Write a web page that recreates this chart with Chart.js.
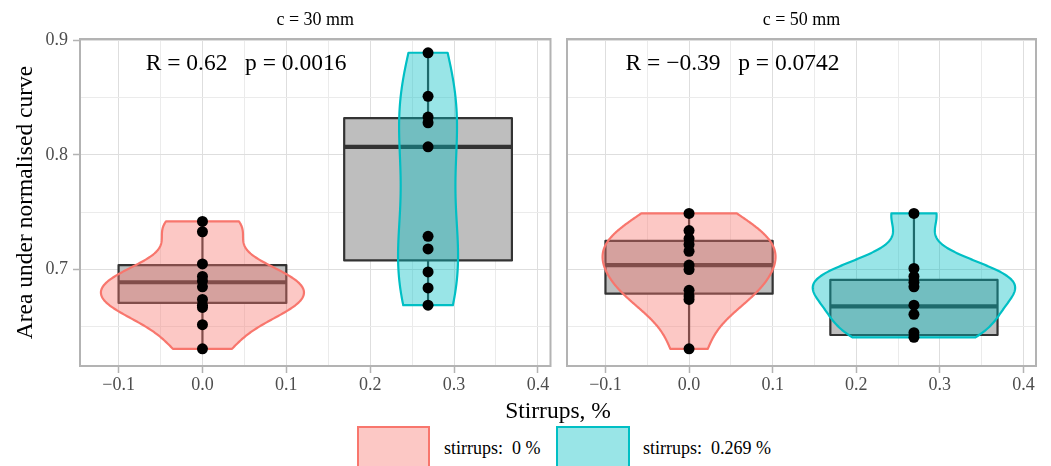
<!DOCTYPE html>
<html>
<head>
<meta charset="utf-8">
<script src="https://cdn.jsdelivr.net/npm/chart.js@4.4.1/dist/chart.umd.min.js"></script>
<style>
    body { margin: 0; background: #fff; font-family: "Liberation Serif", "DejaVu Serif", serif; }
    #page { position: relative; width: 1051px; height: 466px; overflow: hidden; background: #fff; }
    canvas { position: absolute; top: 0; }
    #c30 { left: 0; }
    #c50 { left: 556px; }
    .xtitle { position: absolute; left: 80px; width: 956px; top: 395px; height: 30px; line-height: 30px;
              text-align: center; font-size: 23.5px; color: #000; }
    .key { position: absolute; top: 426px; height: 46px; box-sizing: border-box; border: 2px solid; }
    .keylabel { position: absolute; top: 436px; line-height: 24px; font-size: 18px; color: #000; white-space: pre; }
</style>
</head>
<body>
<div id="page">
    <canvas id="c30" width="556" height="400"></canvas>
    <canvas id="c50" width="495" height="400"></canvas>
    <div class="xtitle" id="xtitle"></div>
    <div class="key" id="key0" style="left:357px;width:73px"></div>
    <div class="keylabel" id="lab0" style="left:444px"></div>
    <div class="key" id="key1" style="left:556px;width:74px"></div>
    <div class="keylabel" id="lab1" style="left:643px"></div>
</div>
<script>
var facetTitles = ['c = 30 mm', 'c = 50 mm'];
var groupLabels = ['stirrups:  0 %', 'stirrups:  0.269 %'];
var stirrups = [0, 0.269];
var groupColors = ['#F8766D', '#00BFC4'];
var groupFills = ['rgba(248,118,109,0.4)', 'rgba(0,191,196,0.4)'];

// area under normalised curve, per cover and stirrup ratio
var auc30Plain = [0.742, 0.733, 0.705, 0.694, 0.690, 0.685, 0.674, 0.669, 0.667, 0.652, 0.631];
var auc30Stirrups = [0.889, 0.851, 0.833, 0.828, 0.807, 0.729, 0.718, 0.698, 0.684, 0.669];
var auc50Plain = [0.749, 0.734, 0.727, 0.722, 0.716, 0.704, 0.700, 0.682, 0.677, 0.674, 0.631];
var auc50Stirrups = [0.749, 0.701, 0.694, 0.689, 0.685, 0.669, 0.661, 0.645, 0.641];

// box plot statistics as drawn in the figure
var box30Lower = [0.671, 0.708];
var box30Middle = [0.689, 0.807];
var box30Upper = [0.704, 0.832];
var box30Min = [0.631, 0.669];
var box30Max = [0.742, 0.889];
var box50Lower = [0.679, 0.643];
var box50Middle = [0.704, 0.668];
var box50Upper = [0.725, 0.691];
var box50Min = [0.631, 0.641];
var box50Max = [0.749, 0.749];

var corLabels = ['R = 0.62   p = 0.0016', 'R = \u22120.39   p = 0.0742'];

var xTicks = [-0.1, 0, 0.1, 0.2, 0.3, 0.4];
var xTickLabels = ['\u22120.1', '0.0', '0.1', '0.2', '0.3', '0.4'];
var xMinor = [-0.05, 0.05, 0.15, 0.25, 0.35];
var yTicks = [0.7, 0.8, 0.9];
var yTickLabels = ['0.7', '0.8', '0.9'];
var yMinor = [0.65, 0.75, 0.85];

var SERIF = '"Liberation Serif", "DejaVu Serif", serif';
var BW_ADJUST = 1.2;
Chart.defaults.font.family = SERIF;

document.getElementById('xtitle').textContent = 'Stirrups, %';
for (var k = 0; k < 2; k++) {
    var key = document.getElementById('key' + k);
    key.style.borderColor = groupColors[k];
    key.style.background = groupFills[k];
    document.getElementById('lab' + k).textContent = groupLabels[k];
}

// --- violin density, same recipe as ggplot2 (gaussian kernel, bw.nrd0, trimmed)
function quantile(sorted, p) {
    var h = (sorted.length - 1) * p, lo = Math.floor(h);
    return sorted[lo] + (h - lo) * ((sorted[lo + 1] !== undefined ? sorted[lo + 1] : sorted[lo]) - sorted[lo]);
}

function bandwidth(values) {
    var n = values.length;
    var mean = values.reduce(function (a, b) { return a + b; }, 0) / n;
    var sd = Math.sqrt(values.reduce(function (a, b) { return a + (b - mean) * (b - mean); }, 0) / (n - 1));
    var sorted = values.slice().sort(function (a, b) { return a - b; });
    var iqr = quantile(sorted, 0.75) - quantile(sorted, 0.25);
    var lo = Math.min(sd, iqr / 1.34);
    if (!lo) lo = sd || 1;
    return 0.9 * lo * Math.pow(n, -0.2);
}

function densityCurve(values) {
    var bw = bandwidth(values) * BW_ADJUST;
    var lo = Math.min.apply(null, values), hi = Math.max.apply(null, values);
    var out = [];
    for (var i = 0; i < 160; i++) {
        var y = lo + (hi - lo) * i / 159, s = 0;
        values.forEach(function (v) {
            var z = (y - v) / bw;
            s += Math.exp(-0.5 * z * z);
        });
        out.push({ y: y, d: s / (values.length * bw * Math.sqrt(2 * Math.PI)) });
    }
    return out;
}

function facetPlugin(facet) {
    return {
        id: 'facet',
        beforeDatasetsDraw: function (chart) {
            var ctx = chart.ctx, xs = chart.scales.x, ys = chart.scales.y, area = chart.chartArea;
            var curves = facet.series.map(densityCurve);
            var maxD = 0;
            curves.forEach(function (c) { c.forEach(function (p) { maxD = Math.max(maxD, p.d); }); });
            var halfWidth = 0.9 * (stirrups[1] - stirrups[0]) / 2;
            var boxHalf = 0.1;

            ctx.save();
            ctx.beginPath();
            ctx.rect(area.left, area.top, area.right - area.left, area.bottom - area.top);
            ctx.clip();
            ctx.lineJoin = 'round';

            stirrups.forEach(function (sx, g) {
                var xc = xs.getPixelForValue(sx);
                var x0 = xs.getPixelForValue(sx - boxHalf), x1 = xs.getPixelForValue(sx + boxHalf);
                var yLo = ys.getPixelForValue(facet.lower[g]), yHi = ys.getPixelForValue(facet.upper[g]);
                ctx.strokeStyle = '#333333';
                ctx.lineWidth = 2.2;
                ctx.beginPath();
                ctx.moveTo(xc, ys.getPixelForValue(facet.min[g]));
                ctx.lineTo(xc, ys.getPixelForValue(facet.max[g]));
                ctx.stroke();
                ctx.fillStyle = '#BEBEBE';
                ctx.fillRect(x0, yHi, x1 - x0, yLo - yHi);
                ctx.strokeRect(x0, yHi, x1 - x0, yLo - yHi);
                ctx.lineWidth = 4.2;
                ctx.beginPath();
                var ym = ys.getPixelForValue(facet.middle[g]);
                ctx.moveTo(x0, ym);
                ctx.lineTo(x1, ym);
                ctx.stroke();
            });

            curves.forEach(function (c, g) {
                var sx = stirrups[g];
                ctx.beginPath();
                c.forEach(function (p, i) {
                    var px = xs.getPixelForValue(sx - halfWidth * p.d / maxD), py = ys.getPixelForValue(p.y);
                    if (i === 0) ctx.moveTo(px, py); else ctx.lineTo(px, py);
                });
                for (var i = c.length - 1; i >= 0; i--) {
                    ctx.lineTo(xs.getPixelForValue(sx + halfWidth * c[i].d / maxD), ys.getPixelForValue(c[i].y));
                }
                ctx.closePath();
                ctx.fillStyle = groupFills[g];
                ctx.fill();
                ctx.strokeStyle = groupColors[g];
                ctx.lineWidth = 2.2;
                ctx.stroke();
            });
            ctx.restore();
        },
        afterDatasetsDraw: function (chart) {
            var ctx = chart.ctx;
            ctx.save();
            ctx.fillStyle = '#000';
            ctx.font = '23.5px ' + SERIF;
            ctx.textAlign = 'center';
            ctx.textBaseline = 'middle';
            ctx.fillText(facet.label, chart.scales.x.getPixelForValue(0.052), chart.scales.y.getPixelForValue(0.879));
            ctx.restore();
        },
        afterDraw: function (chart) {
            var a = chart.chartArea, ctx = chart.ctx;
            ctx.save();
            ctx.strokeStyle = '#B3B3B3';
            ctx.lineWidth = 2;
            ctx.strokeRect(a.left, a.top, a.right - a.left, a.bottom - a.top);
            ctx.restore();
        }
    };
}

function tickList(major, minor) {
    return major.concat(minor).sort(function (a, b) { return a - b; }).map(function (v) { return { value: v }; });
}

function gridFor(major, showTicks) {
    return {
        color: function (c) { return major.indexOf(c.tick && c.tick.value) >= 0 ? '#DEDEDE' : '#EBEBEB'; },
        lineWidth: 1,
        drawTicks: showTicks,
        tickLength: 7,
        tickWidth: 1.5,
        tickColor: function (c) { return major.indexOf(c.tick && c.tick.value) >= 0 ? '#B3B3B3' : 'rgba(0,0,0,0)'; }
    };
}

function buildFacet(canvasId, f, withYAxis, pad) {
    var series = f.series;
    return new Chart(document.getElementById(canvasId), {
        type: 'scatter',
        data: {
            datasets: series.map(function (vals, g) {
                return {
                    label: groupLabels[g],
                    data: vals.map(function (v) { return { x: stirrups[g], y: v }; }),
                    pointRadius: 5.5,
                    pointBackgroundColor: '#000',
                    pointBorderWidth: 0,
                    pointHoverRadius: 5.5
                };
            })
        },
        options: {
            responsive: false,
            devicePixelRatio: 1,
            animation: false,
            events: [],
            layout: { padding: pad },
            plugins: {
                legend: { display: false },
                tooltip: { enabled: false },
                title: {
                    display: true,
                    text: f.title,
                    fullSize: false,
                    color: '#000',
                    font: { size: 18, weight: 'normal', family: SERIF },
                    padding: { top: 9, bottom: 8.4 }
                }
            },
            scales: {
                x: {
                    type: 'linear',
                    min: -0.146,
                    max: 0.415,
                    afterBuildTicks: function (axis) { axis.ticks = tickList(xTicks, xMinor); },
                    afterFit: function (axis) { axis.height = 34; },
                    border: { display: false },
                    grid: gridFor(xTicks, true),
                    ticks: {
                        autoSkip: false,
                        maxRotation: 0,
                        padding: 1,
                        color: '#4D4D4D',
                        font: { size: 18 },
                        callback: function (v) {
                            var i = xTicks.indexOf(v);
                            return i >= 0 ? xTickLabels[i] : '';
                        }
                    }
                },
                y: {
                    type: 'linear',
                    min: 0.616,
                    max: 0.901,
                    afterBuildTicks: function (axis) { axis.ticks = tickList(yTicks, yMinor); },
                    afterFit: function (axis) { axis.width = withYAxis ? 80 : 0; },
                    border: { display: false },
                    grid: gridFor(yTicks, withYAxis),
                    title: {
                        display: withYAxis,
                        text: 'Area under normalised curve',
                        color: '#000',
                        font: { size: 23.5, family: SERIF },
                        padding: { top: 12, bottom: 0 }
                    },
                    ticks: {
                        display: withYAxis,
                        autoSkip: false,
                        padding: 5,
                        color: '#4D4D4D',
                        font: { size: 18 },
                        callback: function (v) {
                            var i = yTicks.indexOf(v);
                            return i >= 0 ? yTickLabels[i] : '';
                        }
                    }
                }
            }
        },
        plugins: [facetPlugin(f)]
    });
}

buildFacet('c30', {
    title: facetTitles[0],
    label: corLabels[0],
    series: [auc30Plain, auc30Stirrups],
    lower: box30Lower, middle: box30Middle, upper: box30Upper, min: box30Min, max: box30Max
}, true, { left: 0, right: 4, top: 0, bottom: 0 });

buildFacet('c50', {
    title: facetTitles[1],
    label: corLabels[1],
    series: [auc50Plain, auc50Stirrups],
    lower: box50Lower, middle: box50Middle, upper: box50Upper, min: box50Min, max: box50Max
}, false, { left: 11, right: 15, top: 0, bottom: 0 });
</script>
</body>
</html>
